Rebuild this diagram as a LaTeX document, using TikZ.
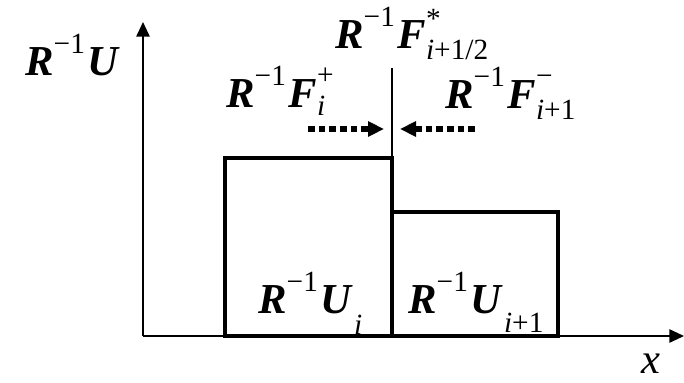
\documentclass[tikz,border=0pt]{standalone}
\usepackage{fontspec}
\setmainfont{Liberation Serif}
\usetikzlibrary{arrows.meta}
\newcommand{\bv}[1]{{\bfseries\itshape #1}}
\newcommand{\up}[2]{\raisebox{#1}{\fontsize{22}{24}\selectfont #2}}
\newcommand{\rinv}{\bv{R}\up{0.5em}{−1}\kern2pt}
\newcommand{\twoscr}[4]{\makebox[0pt][l]{\up{#1}{#2}}\up{#3}{#4}}

\begin{document}
\begin{tikzpicture}[
  x=0.75pt, y=-0.75pt,
  font=\fontsize{32}{34}\selectfont,
  axis/.style={line width=1.3pt, -{Triangle[length=11pt, width=10pt]}},
  cell/.style={line width=3.6pt, line join=miter},
  flux/.style={line width=4pt, dash pattern=on 5pt off 3pt,
               -{Triangle[length=12pt, width=11pt]}},
  lbl/.style={inner sep=0pt, anchor=base west}
]
\useasboundingbox (0,0) rectangle (684,382);
% axes
\coordinate (o) at (143,336);
\coordinate (xend) at (684,336);
\coordinate (yend) at (143,22);
\draw[axis] (o) -- (xend);
\draw[axis] (o) -- (yend);
\node[inner sep=0pt] (xl) at (651,364) {\itshape x};
\node[lbl] (ul) at (25,75) {\rinv\bv{U}};
% cells
\coordinate (a0) at (225,336);
\coordinate (a1) at (392,158);
\coordinate (b0) at (392,336);
\coordinate (b1) at (558,212);
\draw[cell] (a0) rectangle (a1);
\draw[cell] (b0) rectangle (b1);
\node[lbl] (ui) at (258,313) {\rinv\bv{U}\kern2pt\up{-0.5em}{\itshape i}};
\node[lbl] (uj) at (408,313) {\rinv\bv{U}\kern2pt\up{-0.45em}{\itshape i\upshape +1}};
% interface
\coordinate (itop) at (392,68);
\draw[line width=1.3pt] (itop) -- (b0);
\node[lbl] (fs) at (335,48) {\rinv\bv{F}\twoscr{0.45em}{*}{-0.27em}{\itshape i\upshape +1/2}};
\node[lbl] (fp) at (226,107) {\rinv\bv{F}\twoscr{0.52em}{+}{-0.2em}{\itshape i}};
\node[lbl] (fm) at (445,108) {\rinv\bv{F}\twoscr{0.52em}{−}{-0.26em}{\itshape i\upshape +1}};
% fluxes
\coordinate (p0) at (308,129);
\coordinate (p1) at (384,129);
\coordinate (m0) at (475,129);
\coordinate (m1) at (400,129);
\draw[flux] (p0) -- (p1);
\draw[flux] (m0) -- (m1);
\end{tikzpicture}
\end{document}
